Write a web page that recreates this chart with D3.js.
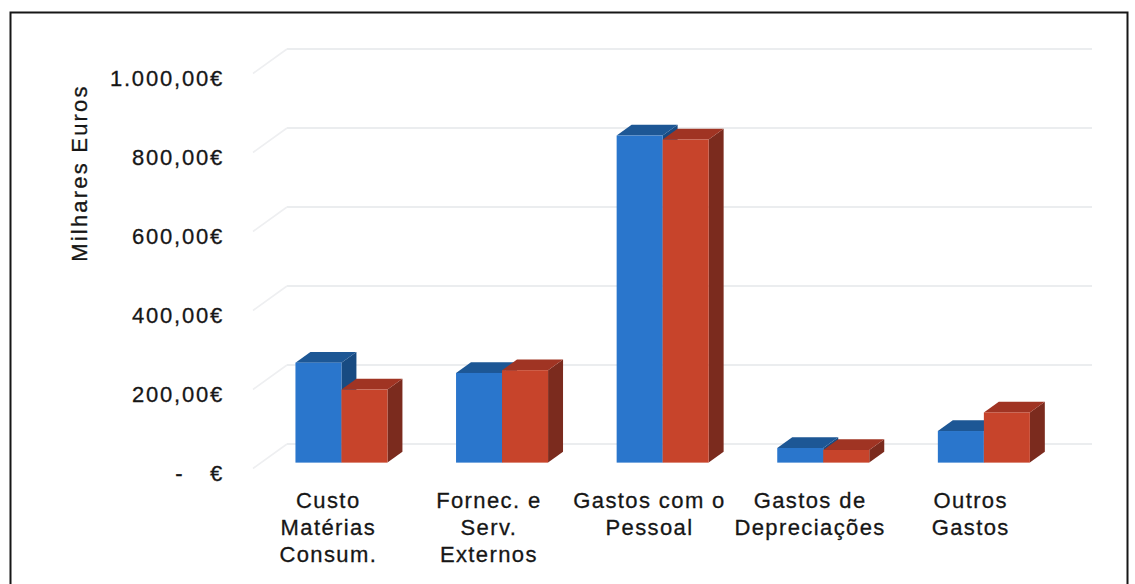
<!DOCTYPE html>
<html>
<head>
<meta charset="utf-8">
<script src="https://cdn.jsdelivr.net/npm/d3@7"></script>
<style>
  html, body { margin: 0; padding: 0; background: #ffffff; }
  svg { display: block; }
  text { font-family: "Liberation Sans", Arial, sans-serif; fill: #161616; stroke: #161616; stroke-width: 0.3px; }
</style>
</head>
<body>
<svg id="chart" width="1135" height="584"></svg>
<script>
// Categories (multi-line labels) and the two yearly series, in thousands of euros
const categories = ["Custo Matérias Consum.", "Fornec. e Serv. Externos", "Gastos com o Pessoal", "Gastos de Depreciações", "Outros Gastos"];
const categoryLines = [
  ["Custo", "Matérias", "Consum."],
  ["Fornec. e", "Serv.", "Externos"],
  ["Gastos com o", "Pessoal"],
  ["Gastos de", "Depreciações"],
  ["Outros", "Gastos"]
];
const seriesNames = ["Ano 1", "Ano 2"];
const seriesA = [253, 227, 828, 37, 80];
const seriesB = [185, 234, 818, 32, 127];
const tickValues = [0, 200, 400, 600, 800, 1000];
const tickLabels = ["-\u2002\u2002€", "200,00€", "400,00€", "600,00€", "800,00€", "1.000,00€"];
const axisTitle = "Milhares Euros";

const svg = d3.select("#chart");

// Oblique 3D projection: back wall at depth 0, front edge of floor at depth 1
const depthDX = -34, depthDY = 24.5;
const proj = (x, y, t) => [x + depthDX * t, y + depthDY * t];

const x0 = d3.scaleBand().domain(categories).range([287, 1090]).paddingInner(0.427).paddingOuter(0.2135);
const x1 = d3.scaleBand().domain(seriesNames).range([0, x0.bandwidth()]).padding(0);
const y = d3.scaleLinear().domain([0, 1000]).range([444, 49]);

const wallLeft = 287, wallRight = 1092;

// Outer frame
svg.append("rect")
  .attr("x", 10.5).attr("y", 12.5)
  .attr("width", 1117).attr("height", 620)
  .attr("fill", "none").attr("stroke", "#161616").attr("stroke-width", 2);

// Gridlines on the back wall and the left side wall
const grid = svg.append("g");
tickValues.forEach(v => {
  const yy = y(v);
  grid.append("line")
    .attr("x1", wallLeft).attr("x2", wallRight)
    .attr("y1", yy).attr("y2", yy)
    .attr("stroke", "#e4e7ea").attr("stroke-width", 1.6);
  const f = proj(wallLeft, yy, 1);
  grid.append("line")
    .attr("x1", wallLeft).attr("y1", yy)
    .attr("x2", f[0]).attr("y2", f[1])
    .attr("stroke", "#eeeff1").attr("stroke-width", 1.6);
});

// Bars as prisms: front face, top face and right side face
const tFront = 0.76, tBack = 0.32;
const colors = [
  { front: "#2a76cc", top: "#1d5795", side: "#184b82" },
  { front: "#c7442b", top: "#a03423", side: "#7b2b1e" }
];

const bars = svg.append("g");
categories.forEach((c, i) => {
  [seriesA[i], seriesB[i]].forEach((v, s) => {
    const xl = x0(c) + x1(seriesNames[s]);
    const xr = xl + x1.bandwidth();
    const yt = y(v), yb = y(0);
    const col = colors[s];
    const fTL = proj(xl, yt, tFront), fTR = proj(xr, yt, tFront);
    const fBR = proj(xr, yb, tFront);
    const bTL = proj(xl, yt, tBack), bTR = proj(xr, yt, tBack);
    const bBR = proj(xr, yb, tBack);
    const g = bars.append("g");
    g.append("polygon")
      .attr("points", [fTR, bTR, bBR, fBR].map(p => p.join(",")).join(" "))
      .attr("fill", col.side);
    g.append("polygon")
      .attr("points", [fTL, bTL, bTR, fTR].map(p => p.join(",")).join(" "))
      .attr("fill", col.top);
    g.append("rect")
      .attr("x", fTL[0]).attr("y", fTL[1])
      .attr("width", fTR[0] - fTL[0]).attr("height", fBR[1] - fTR[1])
      .attr("fill", col.front);
  });
});

// Value axis labels on the front plane
const yFront = d3.scaleLinear().domain(y.domain()).range(y.range().map(r => r + depthDY));
const labels = svg.append("g");
tickValues.forEach((v, i) => {
  labels.append("text")
    .attr("x", 224)
    .attr("y", yFront(v) + 12.5)
    .attr("text-anchor", "end")
    .attr("font-size", 22)
    .attr("letter-spacing", 1.8)
    .text(tickLabels[i]);
});

// Axis title
svg.append("text")
  .attr("transform", "translate(87,173) rotate(-90)")
  .attr("text-anchor", "middle")
  .attr("font-size", 22)
  .attr("letter-spacing", 2.2)
  .text(axisTitle);

// Category labels under the floor
const cat = svg.append("g");
categories.forEach((c, i) => {
  const cx = x0(c) + x0.bandwidth() / 2 - 39;
  const t = cat.append("text")
    .attr("text-anchor", "middle")
    .attr("font-size", 22)
    .attr("letter-spacing", 1.4);
  categoryLines[i].forEach((line, k) => {
    t.append("tspan").attr("x", cx).attr("y", 508 + k * 27).text(line);
  });
});
</script>
</body>
</html>
